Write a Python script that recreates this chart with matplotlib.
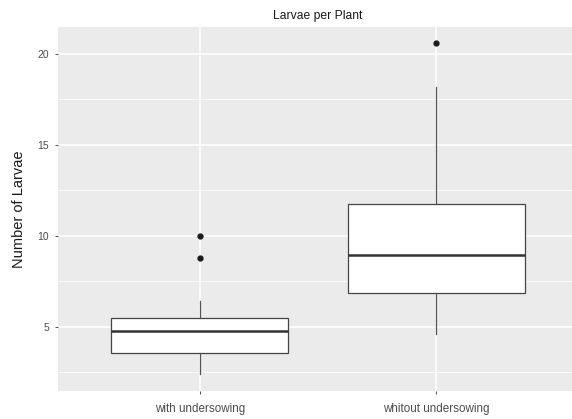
import matplotlib
matplotlib.use("Agg")
import matplotlib.pyplot as plt

categories = ["with undersowing", "whitout undersowing"]
whislo = [2.4, 4.6]
q1 = [3.55, 6.85]
med = [4.8, 8.97]
q3 = [5.48, 11.77]
whishi = [6.42, 18.2]
fliers = [[8.78, 10.0], [20.62]]

plt.rcParams['font.family'] = ['Liberation Sans', 'DejaVu Sans']

fig = plt.figure(figsize=(5.72, 4.19), dpi=100)
L, R, T, B = 58, 578, 27, 391
ax = fig.add_axes([L/572, 1 - B/419, (R-L)/572, (B-T)/419])
ax.set_facecolor('#EBEBEB')
for s in ax.spines.values():
    s.set_visible(False)

stats = []
for i in range(len(categories)):
    stats.append(dict(whislo=whislo[i], q1=q1[i], med=med[i], q3=q3[i],
                      whishi=whishi[i], fliers=fliers[i], label=categories[i]))

positions = list(range(1, len(categories) + 1))
ax.bxp(stats, positions=positions, widths=0.75, patch_artist=True, showcaps=False,
       boxprops=dict(facecolor='white', edgecolor='#444444', linewidth=0.9),
       medianprops=dict(color='#333333', linewidth=1.8),
       whiskerprops=dict(color='#555555', linewidth=0.9),
       flierprops=dict(marker='o', markerfacecolor='#1a1a1a', markeredgecolor='#1a1a1a',
                       markersize=3.5),
       zorder=3)

ax.set_xlim(0.4, 2.6)
ax.set_ylim(1.48, 21.48)
ax.set_yticks([5, 10, 15, 20])
ax.set_yticks([2.5, 7.5, 12.5, 17.5], minor=True)
ax.set_xticks(positions)
ax.set_xticklabels(categories)
ax.grid(True, which='major', color='white', linewidth=1.1, zorder=0)
ax.grid(True, which='minor', axis='y', color='white', linewidth=0.55, zorder=0)
ax.set_axisbelow(True)
ax.tick_params(axis='both', which='major', colors='#333333', labelcolor='#4D4D4D',
               length=2.5, width=0.6)
ax.tick_params(axis='x', labelsize=8.4, pad=6)
ax.tick_params(axis='y', labelsize=7.5, pad=4)
ax.tick_params(axis='y', which='minor', length=0)
ax.set_ylabel("Number of Larvae", fontsize=10.5, color='#1a1a1a', labelpad=8)
ax.set_title("Larvae per Plant", fontsize=8.7, color='#1a1a1a', pad=6)

fig.savefig("out.png", dpi=100)
